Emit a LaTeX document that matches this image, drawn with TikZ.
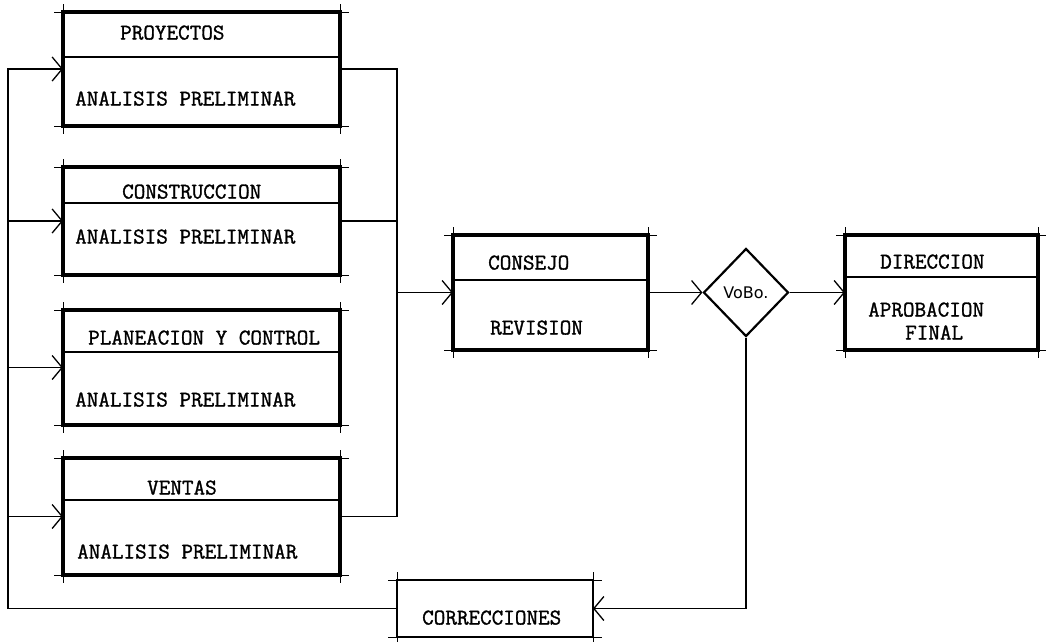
\documentclass[tikz,border=0pt]{standalone}
\usepackage{fontspec}
\newfontfamily\vbfont{DejaVu Sans}
\newfontfamily\tw{Latin Modern Mono}[FakeBold=1.3]
\usetikzlibrary{arrows.meta,shapes.geometric}
\tikzset{
  box/.style={draw, line width=3.5pt, inner sep=0pt, outer sep=0pt, anchor=north west},
  thinbox/.style={draw, line width=1.4pt, inner sep=0pt, outer sep=0pt, anchor=north west},
  conn/.style={line width=1.3pt},
  arr/.style={conn, -{Straight Barb[length=10pt,width=24pt]}},
  divider/.style={line width=1.2pt},
  lbl/.style={inner sep=0pt, anchor=base west, font=\tw\fontsize{22.5}{25}\selectfont},
  tickline/.style={line width=1pt},
}
\newcommand\boxticks[1]{%
  \draw[tickline] ([xshift=-9pt]#1.north west) -- ([xshift=9pt]#1.north east);
  \draw[tickline] ([xshift=-9pt]#1.south west) -- ([xshift=9pt]#1.south east);
  \draw[tickline] ([yshift=8pt]#1.north west) -- ([yshift=-8pt]#1.south west);
  \draw[tickline] ([yshift=8pt]#1.north east) -- ([yshift=-8pt]#1.south east);
}
\begin{document}
\begin{tikzpicture}[x=1pt,y=-1pt]
\useasboundingbox (0,0) rectangle (1046,641);

% left boxes
\node[box, minimum width=277pt, minimum height=114pt] (p1) at (63,12) {};
\node[box, minimum width=277pt, minimum height=108pt] (p2) at (63,167) {};
\node[box, minimum width=277pt, minimum height=115pt] (p3) at (63,310) {};
\node[box, minimum width=277pt, minimum height=117pt] (p4) at (63,458) {};
% right boxes
\node[box, minimum width=195pt, minimum height=115pt] (cons) at (453,235) {};
\node[box, minimum width=193pt, minimum height=115pt] (dir) at (845,235) {};
\node[thinbox, minimum width=196pt, minimum height=57pt] (corr) at (397,580) {};
% decision
\node[draw, diamond, line width=2.2pt, minimum width=85pt, minimum height=88pt, inner sep=0pt,
      font=\vbfont\fontsize{16}{18}\selectfont] (vb) at (746,292.5) {VoBo.};

\boxticks{p1}\boxticks{p2}\boxticks{p3}\boxticks{p4}
\boxticks{cons}\boxticks{dir}\boxticks{corr}

% dividers
\draw[divider] (p1.west |- 0,57) -- (p1.east |- 0,57);
\draw[divider] (p2.west |- 0,203) -- (p2.east |- 0,203);
\draw[divider] (p3.west |- 0,352) -- (p3.east |- 0,352);
\draw[divider] (p4.west |- 0,500) -- (p4.east |- 0,500);
\draw[divider] (cons.west |- 0,280) -- (cons.east |- 0,280);
\draw[divider] (dir.west |- 0,277) -- (dir.east |- 0,277);

% texts
\node[lbl] (t1) at (120,39.5) {PROYECTOS};
\node[lbl] (a1) at (75,105.5) {ANALISIS PRELIMINAR};
\node[lbl] (t2) at (122,198.5) {CONSTRUCCION};
\node[lbl] (a2) at (75,243.5) {ANALISIS PRELIMINAR};
\node[lbl] (t3) at (88,344.5) {PLANEACION Y CONTROL};
\node[lbl] (a3) at (75,406.5) {ANALISIS PRELIMINAR};
\node[lbl] (t4) at (147,494.5) {VENTAS};
\node[lbl] (a4) at (77,558.5) {ANALISIS PRELIMINAR};
\node[lbl] (tc) at (488,269.5) {CONSEJO};
\node[lbl] (rc) at (490,334.5) {REVISION};
\node[lbl] (td) at (880,268.5) {DIRECCION};
\node[lbl] (ad) at (868,316.5) {APROBACION};
\node[lbl] (fd) at (905,339.5) {FINAL};
\node[lbl] (tco) at (422,624.5) {CORRECCIONES};

% connectors
\coordinate (lb) at (8,608.5);
\coordinate (rx) at (397,0);
\draw[arr] (corr.west) -- (lb) |- (p1.west);
\draw[arr] (lb |- p2.west) -- (p2.west);
\draw[arr] (lb |- p3.west) -- (p3.west);
\draw[arr] (lb |- p4.west) -- (p4.west);
\draw[conn] (p1.east) -| (rx |- p4.east) -- (p4.east);
\draw[conn] (p2.east) -- (rx |- p2.east);
\draw[arr] (rx |- cons.west) -- (cons.west);
\draw[arr] (cons.east) -- (vb.west);
\draw[arr] (vb.east) -- (dir.west);
\draw[arr] (vb.south) |- (corr.east);
\end{tikzpicture}
\end{document}
